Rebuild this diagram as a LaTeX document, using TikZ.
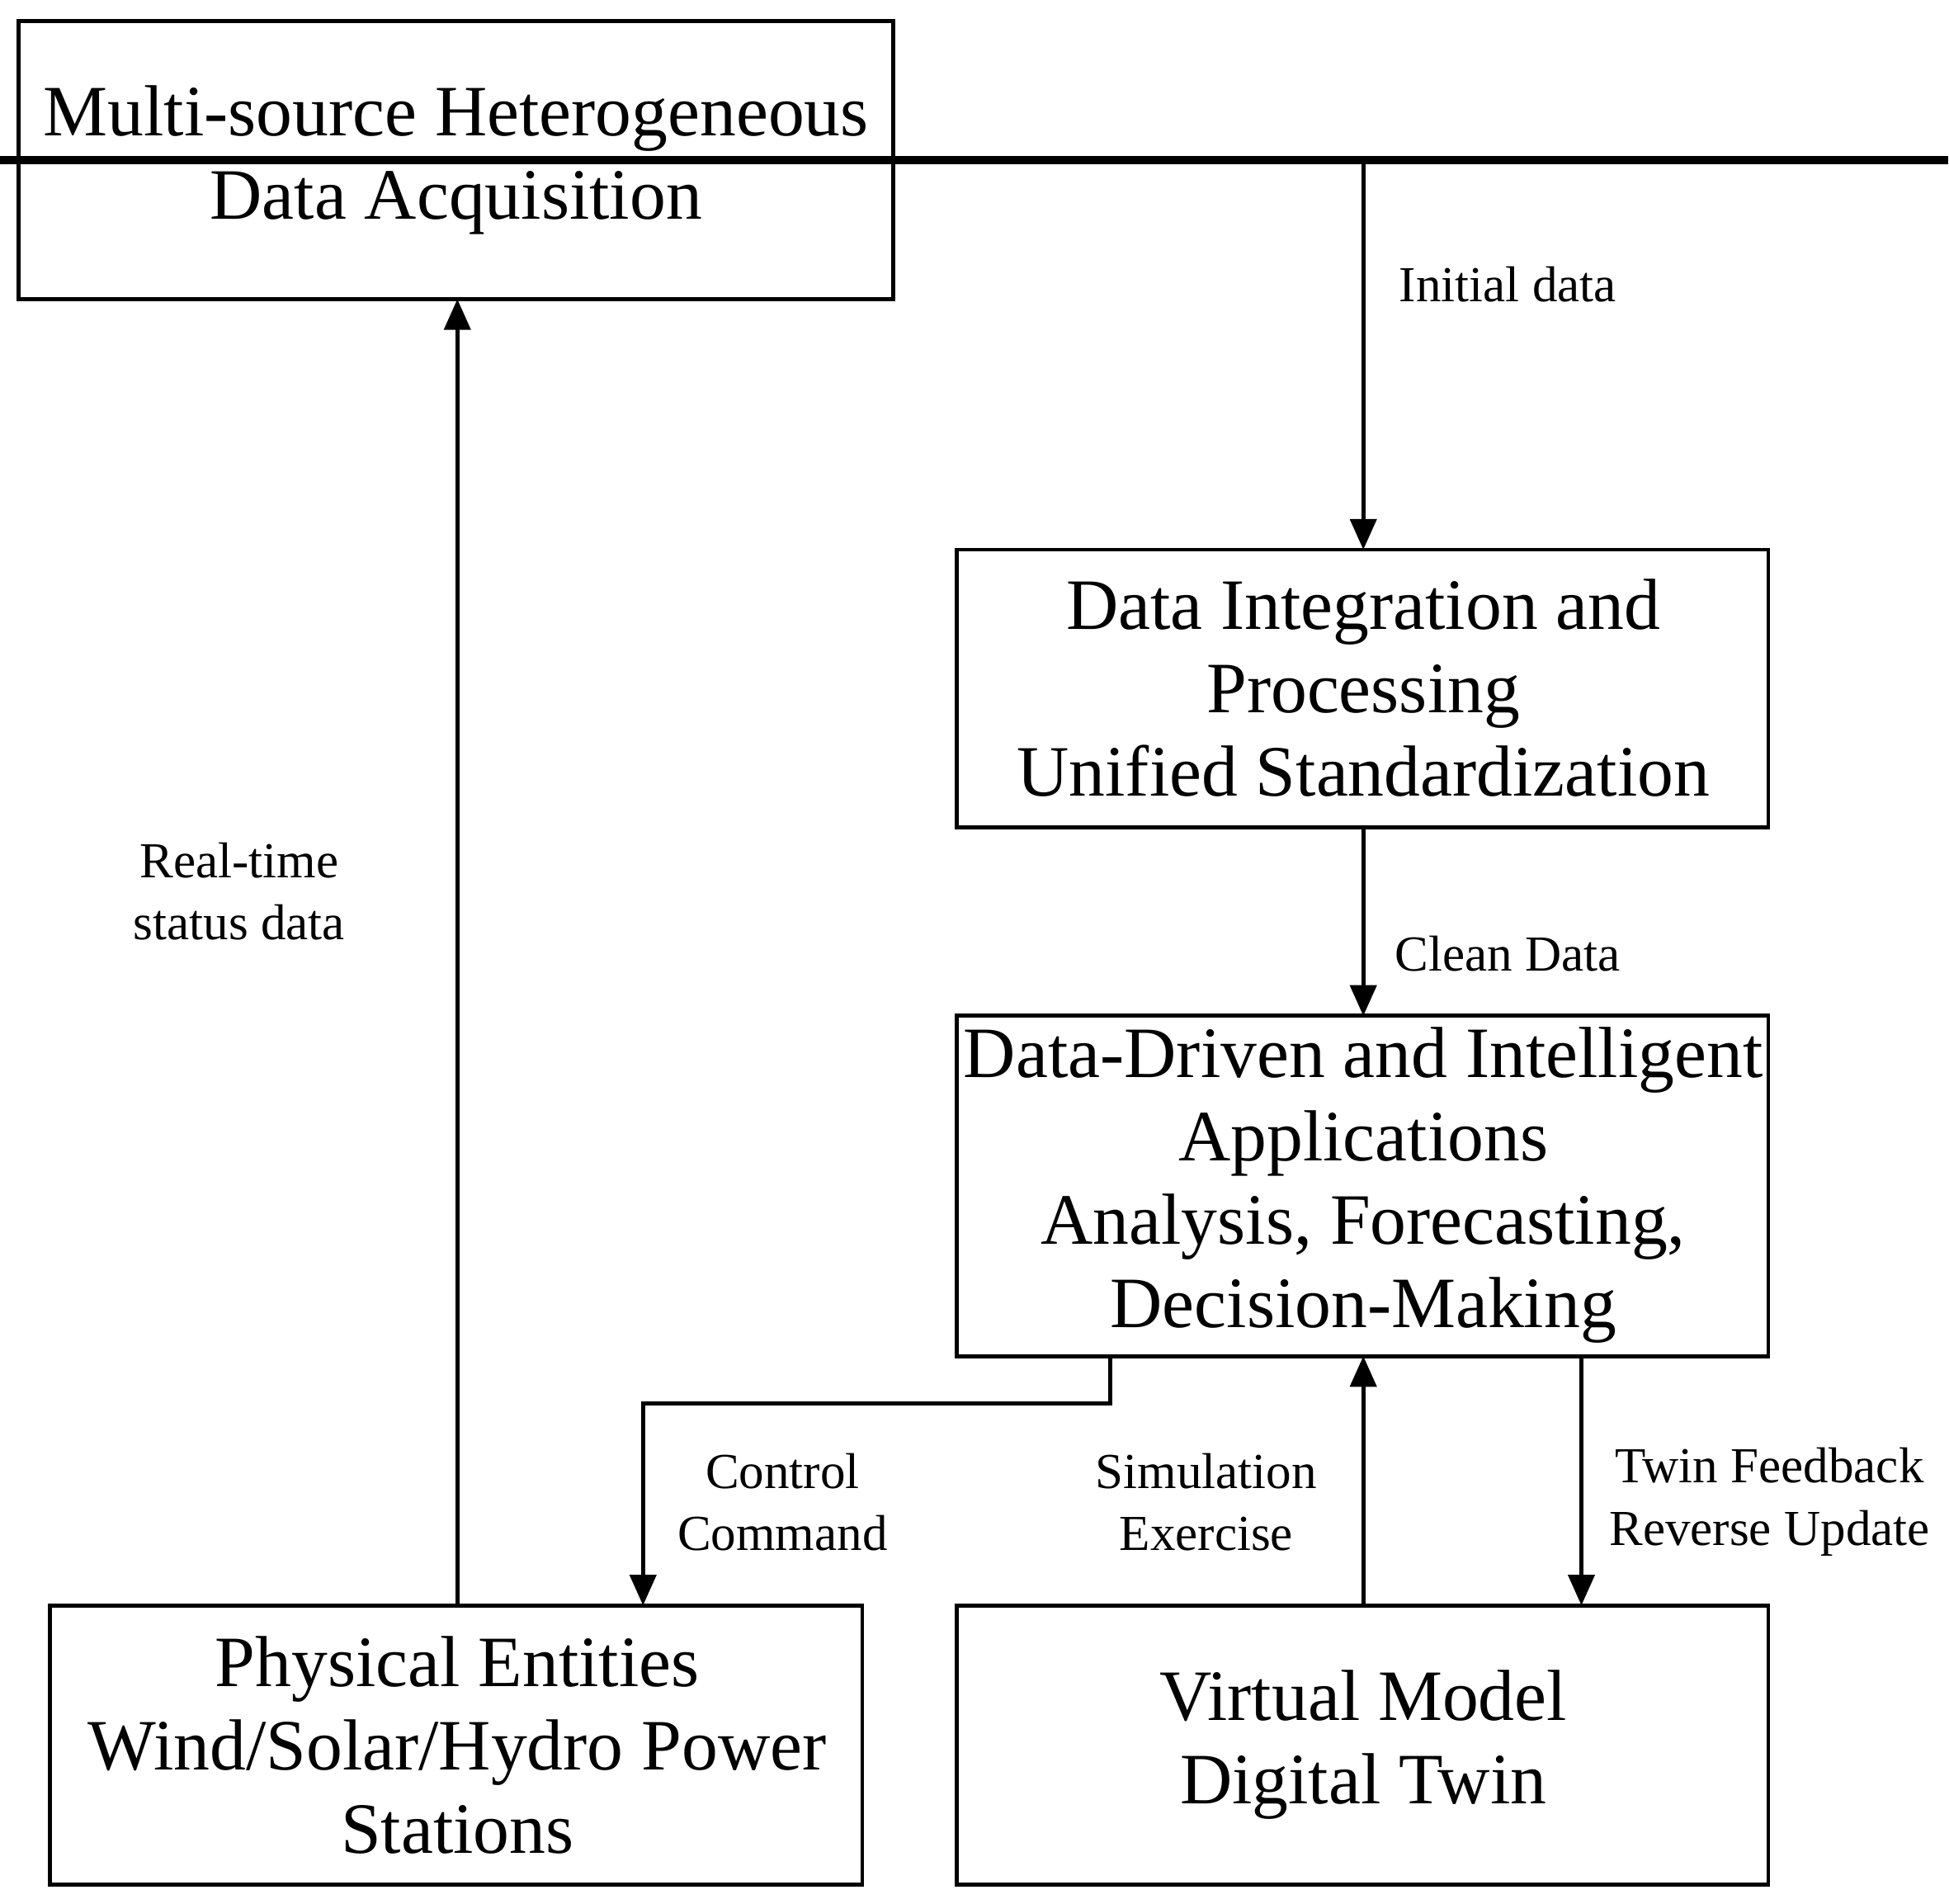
\documentclass[tikz,border=0pt]{standalone}
\usepackage{fontspec}
\setmainfont{Liberation Serif}
\usetikzlibrary{arrows.meta}
\begin{document}
\begin{tikzpicture}[x=0.01cm,y=-0.01cm,
 box/.style={draw,line width=0.9pt,inner sep=0pt,align=center,font=\fontsize{16.5}{19}\selectfont},
 lab/.style={align=center,font=\fontsize{11.5}{14.2}\selectfont},
 arr/.style={line width=0.9pt,-{Triangle[length=7pt,width=6pt]}}]
\useasboundingbox (0,0) rectangle (1564,1527);
\node[box,minimum width=702\pgflinewidth,text width=680] (A) at (366,128.5) {};
\draw[line width=0.9pt] (15,17) rectangle (717,240);
\node[font=\fontsize{16.5}{19}\selectfont,align=center] (A) at (366,128.5) {Multi-source Heterogeneous\\Data Acquisition};
\coordinate (Ab) at (367,240);
\draw[line width=0.9pt] (768,441) rectangle (1419,664);
\node[font=\fontsize{16.5}{19}\selectfont,align=center] (B) at (1094,552) {Data Integration and\\Processing\\Unified Standardization};
\draw[line width=0.9pt] (768,815) rectangle (1419,1088);
\node[font=\fontsize{16.5}{19}\selectfont,align=center] (C) at (1094,951) {Data-Driven and Intelligent\\Applications\\Analysis, Forecasting,\\Decision-Making};
\draw[line width=0.9pt] (40,1288) rectangle (692,1512);
\node[font=\fontsize{16.5}{19}\selectfont,align=center] (D) at (367,1400) {Physical Entities\\Wind/Solar/Hydro Power\\Stations};
\draw[line width=0.9pt] (768,1288) rectangle (1419,1512);
\node[font=\fontsize{16.5}{19}\selectfont,align=center] (E) at (1094,1400) {Virtual Model\\Digital Twin};
% connectors
\coordinate (a1) at (717,128); \coordinate (a2) at (1094,128); \coordinate (bt) at (1094,441);
\draw[arr] (a1) -- (a2) -- (bt);
\coordinate (bb) at (1094,664); \coordinate (ct) at (1094,815);
\draw[arr] (bb) -- (ct);
\coordinate (c1) at (891,1088); \coordinate (c2) at (891,1126); \coordinate (c3) at (516,1126); \coordinate (dt) at (516,1288);
\draw[arr] (c1) -- (c2) -- (c3) -- (dt);
\coordinate (et) at (1094,1288); \coordinate (cb) at (1094,1088);
\draw[arr] (et) -- (cb);
\coordinate (c4) at (1269,1088); \coordinate (e4) at (1269,1288);
\draw[arr] (c4) -- (e4);
\coordinate (d1) at (367,1288);
\draw[arr] (d1) -- (Ab);
% labels
\node[lab] (l1) at (1210,228) {Initial data};
\node[lab] (l2) at (1210,765) {Clean Data};
\node[lab] (l3) at (628,1205) {Control\\Command};
\node[lab] (l4) at (968,1205) {Simulation\\Exercise};
\node[lab] (l5) at (1420,1205) {Twin Feedback\\Reverse Update};
\node[lab] (l6) at (192,715) {Real-time\\status data};
\end{tikzpicture}
\end{document}
